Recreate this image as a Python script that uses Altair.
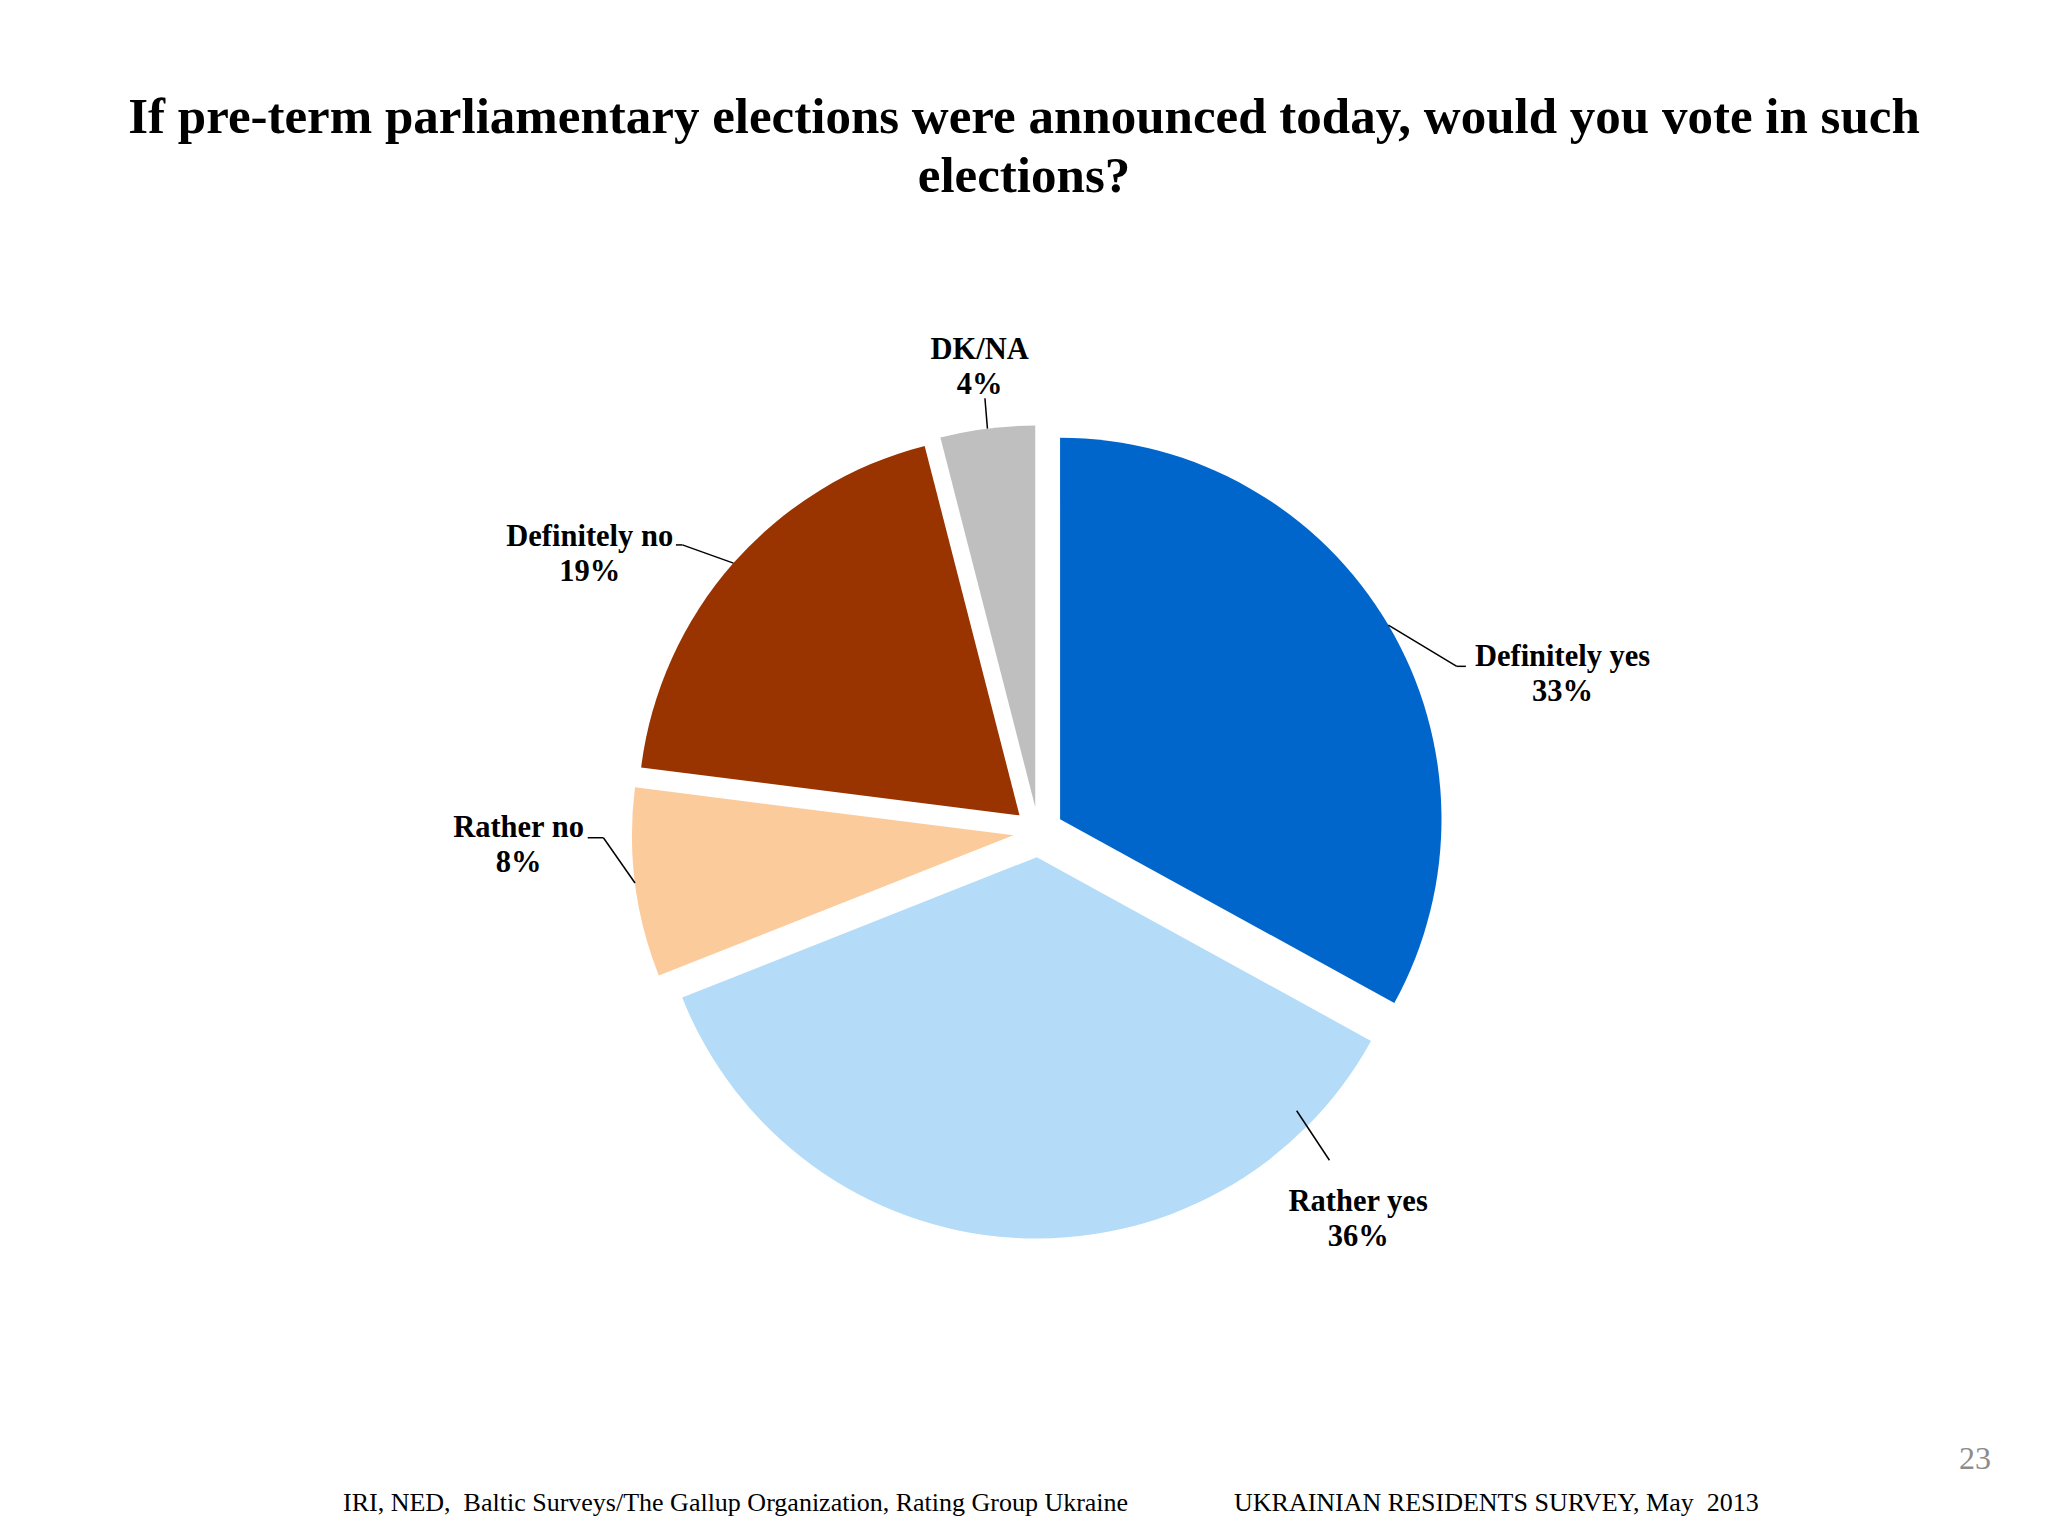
import altair as alt
import pandas as pd

# ---------------- data ----------------
categories = ["Definitely yes", "Rather yes", "Rather no", "Definitely no", "DK/NA"]
values = [33, 36, 8, 19, 4]
colors = ["#0066CC", "#B4DCF8", "#FCCB9C", "#993300", "#BFBFBF"]

title_lines = [
    "If pre-term parliamentary elections were announced today, would you vote in such",
    "elections?",
]
footer_left = "IRI, NED, \u00a0Baltic Surveys/The Gallup Organization, Rating Group Ukraine"
footer_right = "UKRAINIAN RESIDENTS SURVEY, May \u00a02013"
page_number = "23"

# ---------------- layout (pixels) ----------------
W, H = 2032, 1520
CX, CY = 1030.4, 824.0
R = 381.4
EXPLODE = 25.2
LABEL_DIST = [523, 484, 495, 503, 443]
LABEL_TURN = [14.5, -45.2, 6.0, -10.1, 0.0]
LEAD_START_R = [1.0, 0.952, 1.0, 1.0, 1.0]
LEAD_START_TURN = [0, -49.3, 0, 0, 0]
ELBOW_DX = [-105.8, -28.7, 84.9, 92.7, 5.2]
ELBOW_DY = [-7.8, -58.8, -7.8, -9.1, 30.7]
END_DX = [-96.7, -28.7, 69.2, 86.2, 5.2]
END_DY = [-7.8, -58.8, -7.8, -9.1, 30.7]
FONT = "Liberation Serif"
LABEL_SIZE = 30.5
LABEL_LH = 35
TITLE_SIZE = 51
TITLE_LH = 59


def arr(a):
    return "[" + ",".join(str(v) for v in a) + "]"


df = pd.DataFrame({"category": categories, "value": values, "idx": list(range(len(categories)))})

base = (
    alt.Chart(df)
    .transform_joinaggregate(total="sum(value)")
    .transform_window(cum="sum(value)", sort=[alt.SortField("idx")], frame=[None, 0])
    .transform_calculate(a1="2*PI*datum.cum/datum.total")
    .transform_calculate(a0="2*PI*(datum.cum-datum.value)/datum.total")
    .transform_calculate(mid="(datum.a0+datum.a1)/2")
    .transform_calculate(cx=f"{CX}+{EXPLODE}*sin(datum.mid)")
    .transform_calculate(cy=f"{CY}-{EXPLODE}*cos(datum.mid)")
    .transform_calculate(la=f"datum.mid+{arr(LABEL_TURN)}[datum.idx]*PI/180")
    .transform_calculate(ld=f"{arr(LABEL_DIST)}[datum.idx]")
    .transform_calculate(lx="datum.cx+datum.ld*sin(datum.la)")
    .transform_calculate(ly="datum.cy-datum.ld*cos(datum.la)")
    .transform_calculate(ty=f"datum.ly-{LABEL_LH / 2}")
    .transform_calculate(sa=f"datum.mid+{arr(LEAD_START_TURN)}[datum.idx]*PI/180")
    .transform_calculate(sr=f"{R}*{arr(LEAD_START_R)}[datum.idx]")
    .transform_calculate(sx="datum.cx+datum.sr*sin(datum.sa)")
    .transform_calculate(sy="datum.cy-datum.sr*cos(datum.sa)")
    .transform_calculate(bx=f"datum.lx+{arr(ELBOW_DX)}[datum.idx]")
    .transform_calculate(by=f"datum.ly+{arr(ELBOW_DY)}[datum.idx]")
    .transform_calculate(ex=f"datum.lx+{arr(END_DX)}[datum.idx]")
    .transform_calculate(ey=f"datum.ly+{arr(END_DY)}[datum.idx]")
    .transform_calculate(txt="datum.category + '\\n' + datum.value + '%'")
)

arcs = base.mark_arc(radius=R).encode(
    theta=alt.Theta("a0:Q", scale=None),
    theta2=alt.Theta2("a1"),
    x=alt.X("cx:Q", scale=None, axis=None),
    y=alt.Y("cy:Q", scale=None, axis=None),
    color=alt.Color("category:N", scale=alt.Scale(domain=categories, range=colors), legend=None),
)

lead1 = base.mark_rule(color="black", strokeWidth=1.5).encode(
    x=alt.X("sx:Q", scale=None, axis=None),
    y=alt.Y("sy:Q", scale=None, axis=None),
    x2=alt.X2("bx"),
    y2=alt.Y2("by"),
)
lead2 = base.mark_rule(color="black", strokeWidth=1.5).encode(
    x=alt.X("bx:Q", scale=None, axis=None),
    y=alt.Y("by:Q", scale=None, axis=None),
    x2=alt.X2("ex"),
    y2=alt.Y2("ey"),
)

labels = base.mark_text(
    font=FONT, fontWeight="bold", fontSize=LABEL_SIZE, lineHeight=LABEL_LH, lineBreak="\n",
    align="center", baseline="middle", color="black",
).encode(
    x=alt.X("lx:Q", scale=None, axis=None),
    y=alt.Y("ty:Q", scale=None, axis=None),
    text="txt:N",
)

title = alt.Chart(pd.DataFrame({"t": ["\n".join(title_lines)]})).mark_text(
    font=FONT, fontWeight="bold", fontSize=TITLE_SIZE, lineHeight=TITLE_LH, lineBreak="\n",
    align="center", baseline="middle", color="black",
).encode(text="t:N", x=alt.value(1016), y=alt.value(139 - TITLE_LH / 2))

foot_l = alt.Chart(pd.DataFrame({"t": [footer_left]})).mark_text(
    font=FONT, fontSize=26, align="left", baseline="middle", color="black",
).encode(text="t:N", x=alt.value(335), y=alt.value(1495))

foot_r = alt.Chart(pd.DataFrame({"t": [footer_right]})).mark_text(
    font=FONT, fontSize=26, align="left", baseline="middle", color="black",
).encode(text="t:N", x=alt.value(1226), y=alt.value(1495))

page = alt.Chart(pd.DataFrame({"t": [page_number]})).mark_text(
    font=FONT, fontSize=32, align="center", baseline="middle", color="#8C8C8C",
).encode(text="t:N", x=alt.value(1967), y=alt.value(1451))

chart = (
    alt.layer(arcs, lead1, lead2, labels, title, foot_l, foot_r, page)
    .properties(width=W, height=H, padding=0, autosize=alt.AutoSizeParams(type="none"), background="white")
    .configure_view(stroke=None)
)

chart.save("out.html", embed_options={"renderer": "svg", "actions": False})
